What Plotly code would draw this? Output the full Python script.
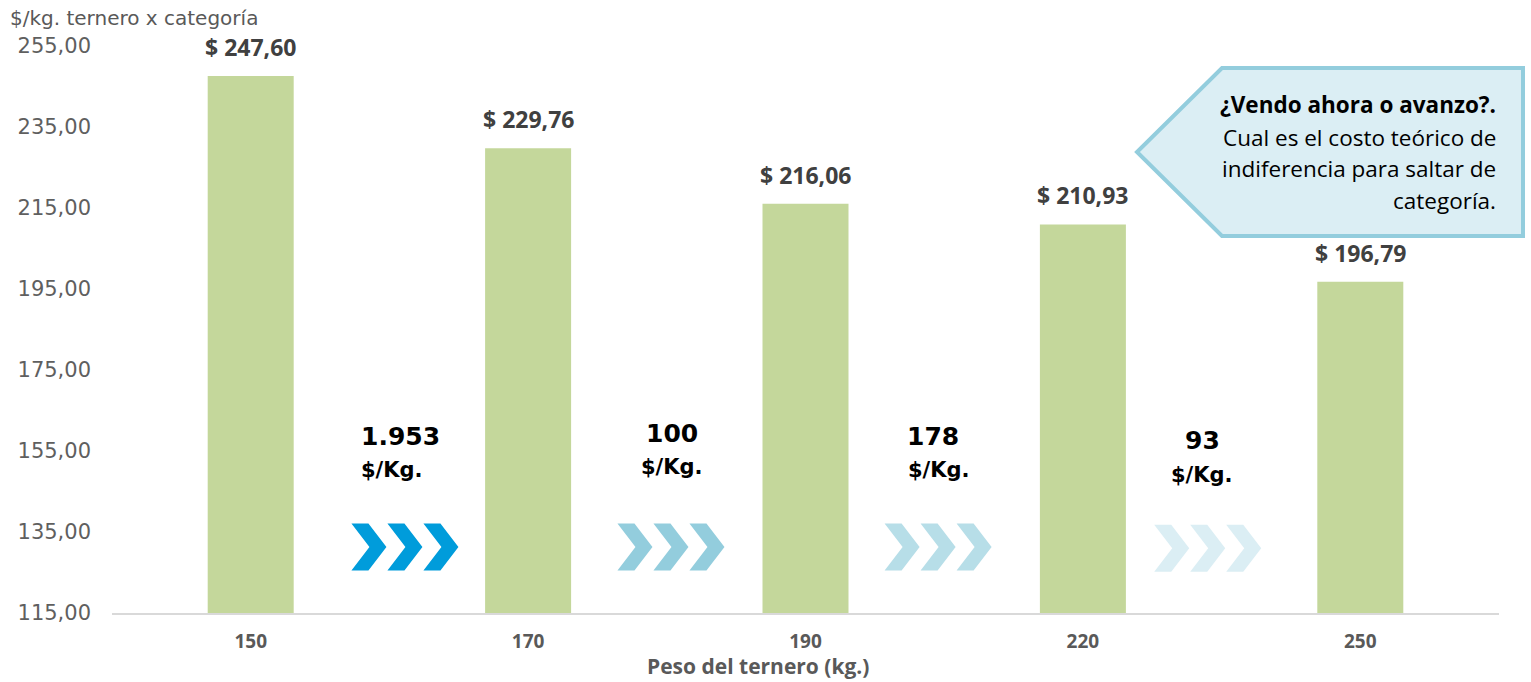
import plotly.graph_objects as go

# ---- data ----
categories = ["150", "170", "190", "220", "250"]
prices = [247.60, 229.76, 216.06, 210.93, 196.79]
price_labels = ["$ 247,60", "$ 229,76", "$ 216,06", "$ 210,93", "$ 196,79"]
diff_values = ["1.953", "100", "178", "93"]
diff_unit = "$/Kg."
y_tickvals = [115, 135, 155, 175, 195, 215, 235, 255]
y_ticktext = ["115,00", "135,00", "155,00", "175,00", "195,00", "215,00", "235,00", "255,00"]
y_title = "$/kg. ternero x categoría"
x_title = "Peso del ternero (kg.)"
callout_title = "¿Vendo ahora o avanzo?."
callout_body = ["Cual es el costo teórico de", "indiferencia para saltar de", "categoría."]

# ---- layout geometry (pixels) ----
W, H = 1531, 682
ML, MR, MT, MB = 112, 32, 46, 69
PW = W - ML - MR
PH = H - MT - MB
YMIN, YMAX = 115, 255
CAT_PX = PW / len(categories)
X_PER_PX = 1 / CAT_PX
Y_PER_PX = (YMAX - YMIN) / PH

x_idx = list(range(len(categories)))
gap_label_x = [0.54, 1.52, 2.46, 3.43]
gap_num_y = [158.5, 159.2, 158.5, 157.7]
gap_unit_x = [0.51, 1.52, 2.48, 3.43]
gap_unit_y = [150.3, 151.0, 150.3, 149.0]
chev_center_x = [0.556, 1.515, 2.478, 3.45]
chev_center_y = [131.3, 131.3, 131.3, 131.0]
chev_colors = ["#009CDB", "#93CDDD", "#B7DEE8", "#DBEEF4"]
callout_line_px = [104, 137, 168, 200]


def px_paper(px, py):
    return (px - ML) / PW, (MT + PH - py) / PH


fig = go.Figure()
fig.add_trace(go.Bar(
    x=x_idx, y=[p - YMIN for p in prices], base=YMIN,
    marker=dict(color="#C4D79B", line=dict(width=0)),
    width=0.31, hoverinfo="skip",
))

annotations = []
# bar value labels
for i, (p, lab) in enumerate(zip(prices, price_labels)):
    annotations.append(dict(x=i, y=p, xref="x", yref="y", text=f"<b>{lab}</b>",
                            showarrow=False, yanchor="bottom", yshift=11,
                            font=dict(family="Open Sans", size=23, color="#404040")))
# gap annotations
for gx, gy, ux, uy, v in zip(gap_label_x, gap_num_y, gap_unit_x, gap_unit_y, diff_values):
    annotations.append(dict(x=gx, y=gy, xref="x", yref="y", text=f"<b>{v}</b>",
                            showarrow=False, font=dict(family="DejaVu Sans", size=25, color="#000000")))
    annotations.append(dict(x=ux, y=uy, xref="x", yref="y", text=f"<b>{diff_unit}</b>",
                            showarrow=False, font=dict(family="DejaVu Sans", size=21, color="#000000")))

# y title
tx, ty = px_paper(8, 18)
annotations.append(dict(x=tx, y=ty, xref="paper", yref="paper",
                        text=y_title, showarrow=False, xanchor="left", yanchor="middle",
                        font=dict(family="DejaVu Sans", size=20, color="#595959")))

# x title
tx, ty = px_paper(758, 666)
annotations.append(dict(x=tx, y=ty, xref="paper", yref="paper",
                        text=f"<b>{x_title}</b>", showarrow=False, xanchor="center", yanchor="middle",
                        font=dict(family="Open Sans", size=21, color="#595959")))

# callout text (one annotation per line for exact spacing)
callout_lines = ["<b>" + callout_title + "</b>"] + callout_body
for line, py in zip(callout_lines, callout_line_px):
    tx, ty = px_paper(1498, py)
    annotations.append(dict(x=tx, y=ty, xref="paper", yref="paper", text=line,
                            showarrow=False, xanchor="right", yanchor="middle", align="right",
                            font=dict(family="Open Sans", size=22.5, color="#000000")))

shapes = []
# chevrons
cw, ch, cs, cslant = 35, 47, 36, 18
for cx, cy, col in zip(chev_center_x, chev_center_y, chev_colors):
    start_px = -(cs * 2 + cw) / 2
    for k in range(3):
        x0px = start_px + k * cs
        pts_px = [(x0px, -ch / 2), (x0px + cw - cslant, -ch / 2), (x0px + cw, 0),
                  (x0px + cw - cslant, ch / 2), (x0px, ch / 2), (x0px + cslant, 0)]
        pts = [(cx + a * X_PER_PX, cy - b * Y_PER_PX) for a, b in pts_px]
        path = "M " + " L ".join(f"{a},{b}" for a, b in pts) + " Z"
        shapes.append(dict(type="path", path=path, xref="x", yref="y",
                           fillcolor=col, line=dict(width=0), layer="above"))

# callout box
box_px = [(1222, 68), (1523, 68), (1523, 236), (1222, 236), (1137, 152)]
bp = [px_paper(a, b) for a, b in box_px]
shapes.append(dict(type="path", xref="paper", yref="paper",
                   path="M " + " L ".join(f"{a},{b}" for a, b in bp) + " Z",
                   fillcolor="#DBEEF4", line=dict(color="#93CDDD", width=4), layer="below"))

fig.update_layout(
    width=W, height=H,
    margin=dict(l=ML, r=MR, t=MT, b=MB),
    plot_bgcolor="white", paper_bgcolor="white",
    showlegend=False,
    annotations=annotations, shapes=shapes,
    xaxis=dict(range=[-0.5, len(categories) - 0.5], tickvals=x_idx,
               ticktext=[f"<b>{c}</b>" for c in categories],
               showgrid=False, zeroline=False, showline=True, linecolor="#D9D9D9", linewidth=2,
               ticks="", ticklabelstandoff=10,
               tickfont=dict(family="Open Sans", size=19, color="#595959")),
    yaxis=dict(range=[YMIN, YMAX], tickvals=y_tickvals, ticktext=y_ticktext,
               showgrid=False, zeroline=False, showline=False, ticks="",
               ticklabelstandoff=20,
               tickfont=dict(family="DejaVu Sans", size=21, color="#5f5f5f")),
)

fig.write_html("out.html", config={"displayModeBar": False},
               post_script="document.body.style.margin='0px';")
